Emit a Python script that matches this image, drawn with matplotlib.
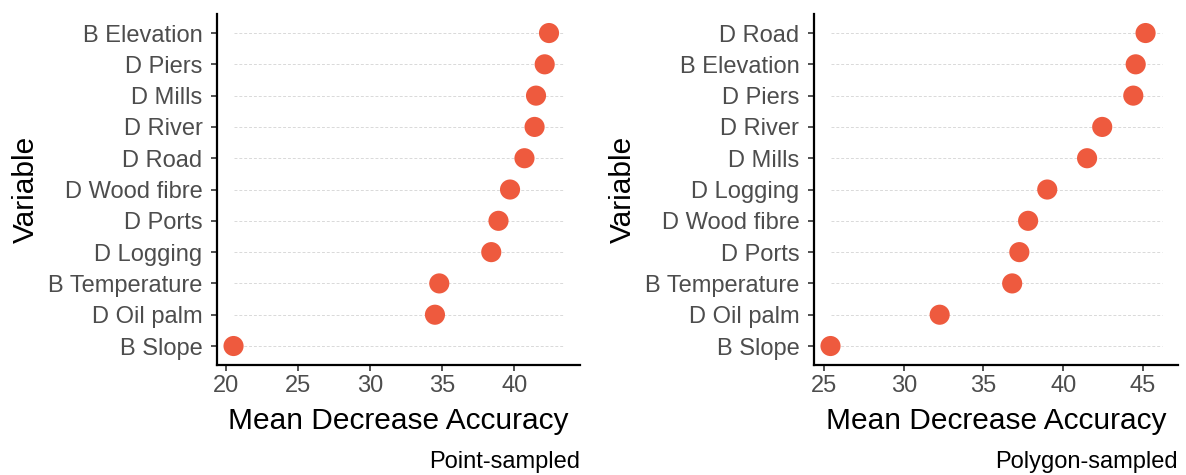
import matplotlib
matplotlib.use("Agg")
import matplotlib.pyplot as plt

plt.rcParams['font.family'] = ['Liberation Sans', 'DejaVu Sans']

# importance scores, listed from bottom to top of each panel
point_vars = ["B Slope", "D Oil palm", "B Temperature", "D Logging", "D Ports",
              "D Wood fibre", "D Road", "D River", "D Mills", "D Piers", "B Elevation"]
point_mda = [20.55, 34.5, 34.8, 38.4, 38.9, 39.7, 40.7, 41.4, 41.5, 42.1, 42.4]

poly_vars = ["B Slope", "D Oil palm", "B Temperature", "D Ports", "D Wood fibre",
             "D Logging", "D Mills", "D River", "D Piers", "B Elevation", "D Road"]
poly_mda = [25.4, 32.25, 36.8, 37.25, 37.8, 39.0, 41.5, 42.45, 44.4, 44.55, 45.17]

x_ticks_point = [20, 25, 30, 35, 40]
x_ticks_poly = [25, 30, 35, 40, 45]

dot_color = "#EE5A3E"
label_gray = "#4D4D4D"

fig = plt.figure(figsize=(11.86, 4.75), dpi=100)
ax1 = fig.add_axes([0.1830, 0.232, 0.3060, 0.738])
ax2 = fig.add_axes([0.6863, 0.232, 0.3070, 0.738])


def draw_panel(ax, names, values, ticks, caption):
    ypos = list(range(1, len(names) + 1))
    lo, hi = min(values), max(values) + 1
    ax.hlines(ypos, lo, hi, colors="#D9D9D9", linestyles=(0, (3, 2)), linewidth=0.7, zorder=1)
    ax.scatter(values, ypos, s=210, color=dot_color, edgecolors="none", zorder=3)

    pad = 0.05 * (hi - lo)
    ax.set_xlim(lo - pad, hi + pad)
    ax.set_ylim(0.4, len(names) + 0.6)
    ax.set_yticks(ypos)
    ax.set_yticklabels(names)
    ax.set_xticks(ticks)

    for side in ["top", "right"]:
        ax.spines[side].set_visible(False)
    for side in ["left", "bottom"]:
        ax.spines[side].set_linewidth(1.6)
        ax.spines[side].set_color("black")
    ax.tick_params(axis="both", length=4.5, width=1.2, color="#333333",
                   labelsize=17, labelcolor=label_gray, pad=3)
    ax.tick_params(axis="y", pad=6)

    ax.set_xlabel("Mean Decrease Accuracy", fontsize=21.5, color="black", labelpad=7)
    ax.set_ylabel("Variable", fontsize=21.5, color="black", labelpad=6)
    ax.text(1.0, -0.277, caption, transform=ax.transAxes, ha="right", va="center",
            fontsize=17, color="black")


draw_panel(ax1, point_vars, point_mda, x_ticks_point, "Point-sampled")
draw_panel(ax2, poly_vars, poly_mda, x_ticks_poly, "Polygon-sampled")

fig.savefig("out.png", dpi=100, facecolor="white")
